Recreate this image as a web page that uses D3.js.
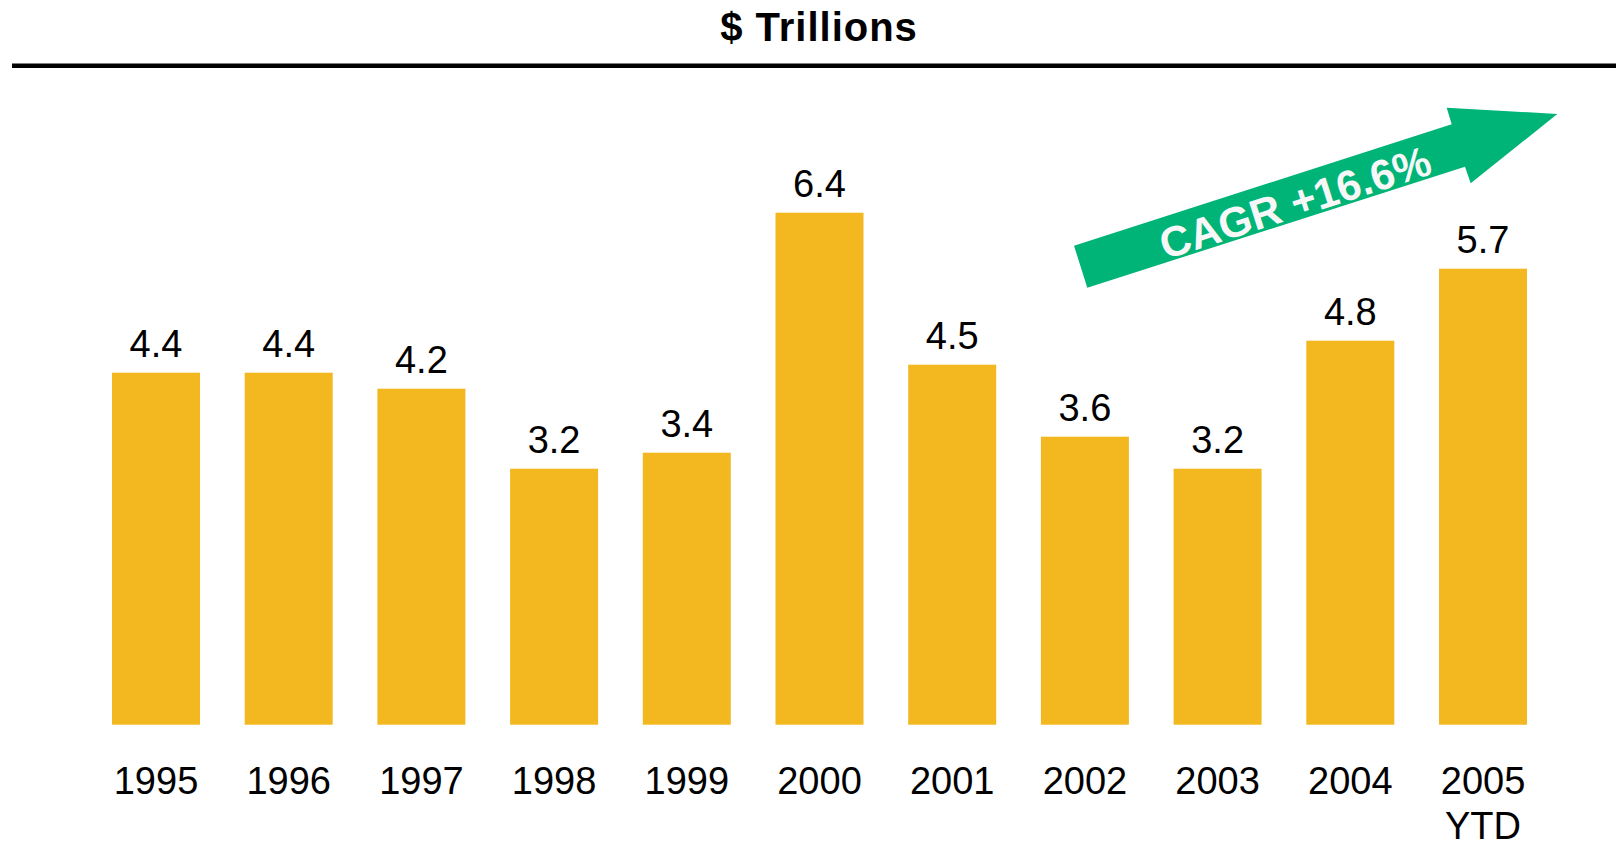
<!DOCTYPE html>
<html>
<head>
<meta charset="utf-8">
<script src="https://cdn.jsdelivr.net/npm/d3@7"></script>
<style>
  html, body { margin: 0; padding: 0; background: #ffffff; }
  svg { display: block; }
  text { font-family: "Liberation Sans", Arial, sans-serif; }
</style>
</head>
<body>
<svg id="chart" width="1616" height="843"></svg>
<script>
// Annual volume, $ trillions
const years = ["1995", "1996", "1997", "1998", "1999", "2000", "2001", "2002", "2003", "2004", "2005"];
const yearSubLabels = ["", "", "", "", "", "", "", "", "", "", "YTD"];
const values = [4.4, 4.4, 4.2, 3.2, 3.4, 6.4, 4.5, 3.6, 3.2, 4.8, 5.7];
const titleText = "$ Trillions";
const cagrText = "CAGR +16.6%";

const W = 1616, H = 843;
const barColor = "#F3B71F";
const arrowColor = "#00B478";

const svg = d3.select("#chart");

// Title and rule
svg.append("text")
  .attr("x", 819).attr("y", 41)
  .attr("text-anchor", "middle")
  .attr("font-size", 40)
  .attr("font-weight", "bold")
  .attr("letter-spacing", 1)
  .attr("fill", "#000")
  .text(titleText);

svg.append("line")
  .attr("x1", 12).attr("x2", W)
  .attr("y1", 65.8).attr("y2", 65.8)
  .attr("stroke", "#000")
  .attr("stroke-width", 4.5);

// Scales
const baseY = 724.7;
const x = d3.scaleBand()
  .domain(years)
  .range([112, 1527])
  .paddingInner(0.337)
  .paddingOuter(0);

const y = d3.scaleLinear()
  .domain([0, 7])
  .range([baseY, baseY - 560]);

const data = years.map((yr, i) => ({ year: yr, sub: yearSubLabels[i], value: values[i] }));

// Bars
svg.append("g")
  .selectAll("rect")
  .data(data)
  .join("rect")
  .attr("x", d => x(d.year))
  .attr("y", d => y(d.value))
  .attr("width", x.bandwidth())
  .attr("height", d => y(0) - y(d.value))
  .attr("fill", barColor);

// Value labels above bars
svg.append("g")
  .selectAll("text")
  .data(data)
  .join("text")
  .attr("x", d => x(d.year) + x.bandwidth() / 2)
  .attr("y", d => y(d.value) - 16)
  .attr("text-anchor", "middle")
  .attr("font-size", 38)
  .attr("fill", "#000")
  .text(d => d.value.toFixed(1));

// Category axis labels (no axis line or ticks)
const xAxis = d3.axisBottom(x).tickSize(0).tickPadding(0);
const axisG = svg.append("g")
  .attr("transform", `translate(0,${baseY})`)
  .call(xAxis);
axisG.select(".domain").remove();
axisG.selectAll(".tick text")
  .attr("font-family", "'Liberation Sans', Arial, sans-serif")
  .attr("font-size", 38)
  .attr("fill", "#000")
  .attr("dy", null)
  .attr("y", 794.3 - baseY)
  .each(function(d, i) {
    const sub = yearSubLabels[i];
    if (sub) {
      d3.select(this.parentNode).append("text")
        .attr("y", 839.5 - baseY)
        .attr("text-anchor", "middle")
        .attr("font-family", "'Liberation Sans', Arial, sans-serif")
        .attr("font-size", 38)
        .attr("fill", "#000")
        .text(sub);
    }
  });

// Growth arrow annotation
const arrowPts = [
  [1074, 245.7],
  [1451.7, 124.3],
  [1446.7, 107.7],
  [1557.3, 114],
  [1470.7, 183.3],
  [1465, 166.7],
  [1087.3, 287.7]
];
svg.append("path")
  .attr("d", d3.line()(arrowPts) + "Z")
  .attr("fill", arrowColor);

const angle = Math.atan2(124.3 - 245.7, 1451.7 - 1074) * 180 / Math.PI;
svg.append("text")
  .attr("transform", `translate(1295,202) rotate(${angle})`)
  .attr("text-anchor", "middle")
  .attr("dy", "0.36em")
  .attr("font-size", 42.5)
  .attr("font-weight", "bold")
  .attr("fill", "#F7F7F7")
  .text(cagrText);
</script>
</body>
</html>
